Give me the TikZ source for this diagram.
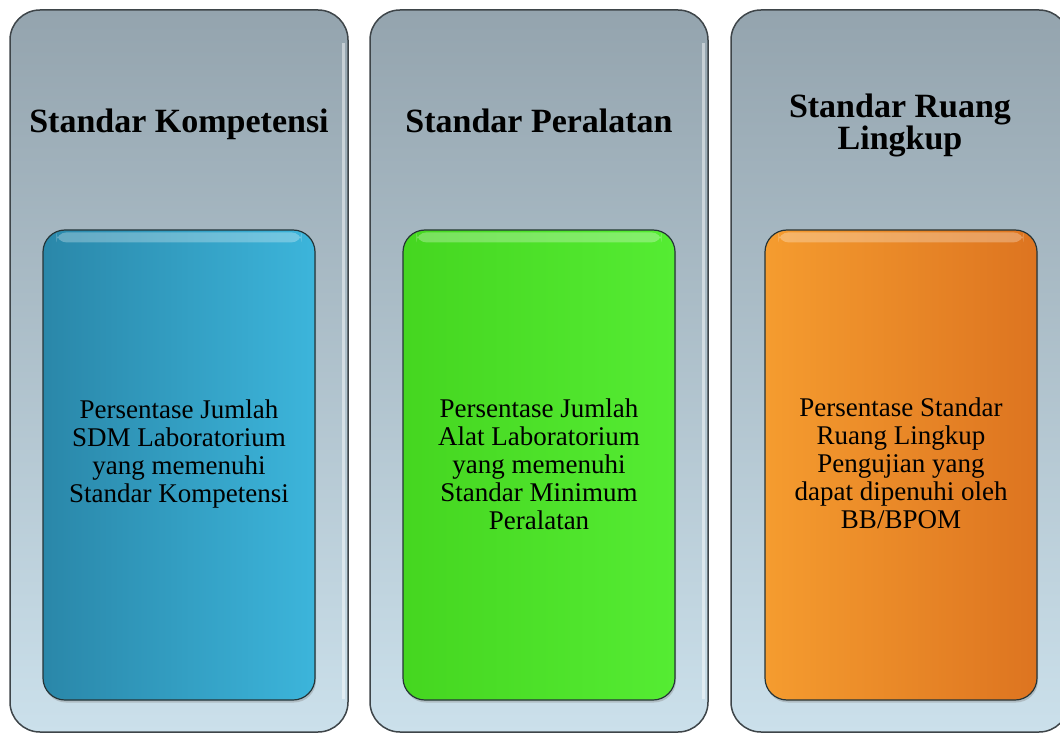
\documentclass[tikz,border=0pt]{standalone}
\usepackage{fontspec}
\setmainfont{Liberation Serif}
\usetikzlibrary{shadows,calc}
\definecolor{panelTop}{HTML}{94A4AE}
\definecolor{panelBot}{HTML}{CBE0EB}
\definecolor{panelEdge}{HTML}{3E4549}
\definecolor{bluL}{HTML}{2A87A9}
\definecolor{bluR}{HTML}{3CB5DB}
\definecolor{grnL}{HTML}{45D620}
\definecolor{grnR}{HTML}{55EC33}
\definecolor{orgL}{HTML}{F59C2F}
\definecolor{orgR}{HTML}{DD7420}
\definecolor{innerEdge}{HTML}{263538}
\begin{document}
\begin{tikzpicture}[x=1pt,y=-1pt,
  panel/.style={draw=panelEdge, line width=1.5pt, rounded corners=30pt,
    top color=panelTop, bottom color=panelBot, minimum width=338pt,
    minimum height=722pt, inner sep=0pt},
  innerbox/.style={draw=innerEdge, line width=1.2pt, rounded corners=22pt,
    minimum width=272pt, minimum height=470pt, inner sep=0pt,
    drop shadow={shadow xshift=1pt, shadow yshift=-2.5pt, opacity=0.35}},
  gloss/.style={fill=white, opacity=0.28, rounded corners=10pt},
  edgelight/.style={draw=white, opacity=0.45, line width=3pt},
  title/.style={font=\fontsize{34}{31}\selectfont\bfseries, align=center, inner sep=0pt},
  bodytext/.style={font=\fontsize{27}{28}\selectfont, align=center, inner sep=0pt, anchor=north}]
\useasboundingbox (0,0) rectangle (1060,735);
\clip (0,0) rectangle (1060,735);
\fill[white] (0,0) rectangle (1060,735);
% panels
\node[panel] (p1) at (179,371) {};
\node[panel] (p2) at (539,371) {};
\node[panel] (p3) at (900,371) {};
\foreach \p in {p1,p2,p3}{
  \draw[edgelight] ($(\p.north east)+(-5,34)$) -- ($(\p.south east)+(-5,-34)$);
}
% inner boxes
\node[innerbox, left color=bluL, right color=bluR] (b1) at (179,465) {};
\node[innerbox, left color=grnL, right color=grnR] (b2) at (539,465) {};
\node[innerbox, left color=orgL, right color=orgR] (b3) at (901,465) {};
\foreach \b in {b1,b2,b3}{
  \fill[gloss] ($(\b.north west)+(14,3)$) rectangle ($(\b.north east)+(-14,13)$);
}
% titles
\node[title, anchor=base] (t1) at (179,133) {Standar Kompetensi};
\node[title, anchor=base] (t2) at (539,133) {Standar Peralatan};
\node[title, anchor=north] (t3) at (900,94) {Standar Ruang\\Lingkup};
% body texts
\node[bodytext] (x1) at (179,400) {Persentase Jumlah\\SDM Laboratorium\\yang memenuhi\\Standar Kompetensi};
\node[bodytext] (x2) at (539,399) {Persentase Jumlah\\Alat Laboratorium\\yang memenuhi\\Standar Minimum\\Peralatan};
\node[bodytext] (x3) at (901,398) {Persentase Standar\\Ruang Lingkup\\Pengujian yang\\dapat dipenuhi oleh\\BB/BPOM};
\end{tikzpicture}
\end{document}
